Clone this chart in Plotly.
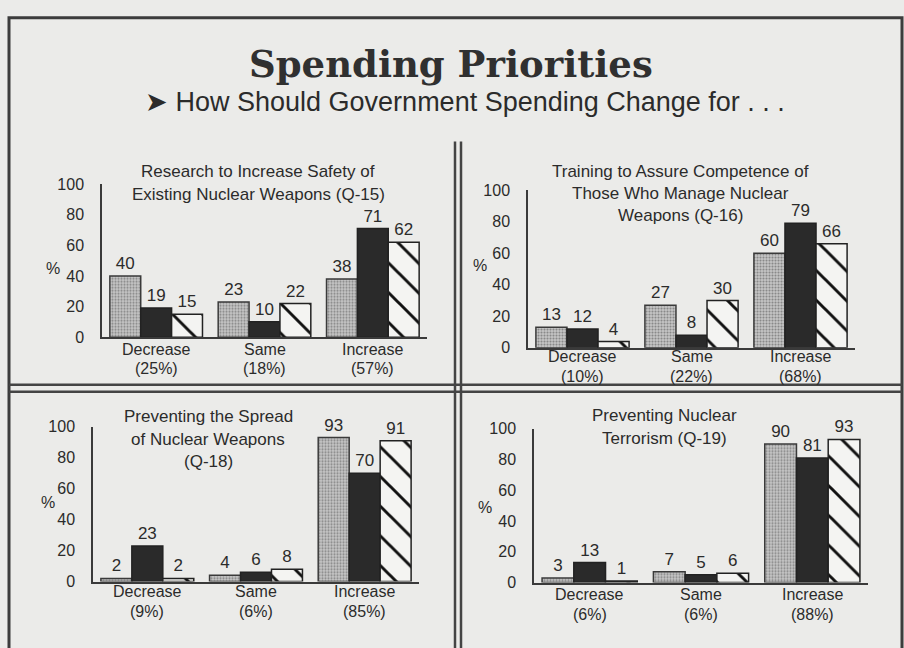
import plotly.graph_objects as go

W, H = 904, 648

categories = ["Decrease", "Same", "Increase"]

# Panel data: (series1 stippled, series2 solid, series3 hatched, category shares)
q15_s1 = [40, 23, 38]
q15_s2 = [19, 10, 71]
q15_s3 = [15, 22, 62]
q15_share = [25, 18, 57]

q16_s1 = [13, 27, 60]
q16_s2 = [12, 8, 79]
q16_s3 = [4, 30, 66]
q16_share = [10, 22, 68]

q18_s1 = [2, 4, 93]
q18_s2 = [23, 6, 70]
q18_s3 = [2, 8, 91]
q18_share = [9, 6, 85]

q19_s1 = [3, 7, 90]
q19_s2 = [13, 5, 81]
q19_s3 = [1, 6, 93]
q19_share = [6, 6, 88]

titles = [
    ["Research to Increase Safety of", "Existing Nuclear Weapons (Q-15)"],
    ["Training to Assure Competence of", "Those Who Manage Nuclear", "Weapons (Q-16)"],
    ["Preventing the Spread", "of Nuclear Weapons", "(Q-18)"],
    ["Preventing Nuclear", "Terrorism (Q-19)"],
]
y_ticks = [0, 20, 40, 60, 80, 100]

panels = [
    (q15_s1, q15_s2, q15_s3, q15_share),
    (q16_s1, q16_s2, q16_s3, q16_share),
    (q18_s1, q18_s2, q18_s3, q18_share),
    (q19_s1, q19_s2, q19_s3, q19_share),
]

# Layout geometry in pixels: x-axis left/right, y of value 0 and value 100
geom = [
    dict(x0=102, x1=427, y0=338, y100=181, title_x=258, title_y=[168, 192], pct=(53, 45), lab=(12, 31)),
    dict(x0=528, x1=855, y0=349, y100=187, title_x=680, title_y=[168, 191, 213], pct=(480, 52), lab=(9, 29)),
    dict(x0=93, x1=419, y0=589, y100=430, title_x=208, title_y=[420, 443, 466], pct=(48, 51), lab=(10, 30)),
    dict(x0=534, x1=868, y0=590, y100=432, title_x=664, title_y=[418, 442], pct=(485, 49), lab=(12, 32)),
]

INK = "#2b2b2b"
LINE = "#3a3a3a"
FONT = "Liberation Sans, Arial, sans-serif"

def px_x(x):
    return x / W

def px_y(y):
    return 1 - y / H

fig = go.Figure()
layout = dict(
    width=W, height=H,
    margin=dict(l=0, r=0, t=0, b=0),
    paper_bgcolor="#ebebe9",
    plot_bgcolor="rgba(0,0,0,0)",
    barmode="group",
    bargap=0.145,
    bargroupgap=0,
    showlegend=False,
    font=dict(family=FONT, color=INK, size=16),
)
annotations = []
shapes = []

for i, ((s1, s2, s3, share), g) in enumerate(zip(panels, geom)):
    n = "" if i == 0 else str(i + 1)
    xa, ya = "x" + n, "y" + n
    common = dict(
        x=categories, xaxis=xa, yaxis=ya,
        textposition="outside", cliponaxis=False, constraintext="none",
        texttemplate="%{y}", textfont=dict(size=17, color=INK),
        hoverinfo="skip",
    )
    fig.add_trace(go.Bar(
        y=s1, name="Series 1",
        marker=dict(color="#bcbcbc", line=dict(color=LINE, width=1.5),
                    pattern=dict(shape=".", size=3, solidity=0.38,
                                 fgcolor="#444444", bgcolor="#c6c6c6")),
        **common))
    fig.add_trace(go.Bar(
        y=s2, name="Series 2",
        marker=dict(color="#2a2a2a", line=dict(color="#222", width=1.5)),
        **common))
    fig.add_trace(go.Bar(
        y=s3, name="Series 3",
        marker=dict(color="#f4f4f2", line=dict(color="#222", width=1.5),
                    pattern=dict(shape="\\", size=21, solidity=0.14,
                                 fgcolor="#111111", fgopacity=1,
                                 bgcolor="#f4f4f2")),
        **common))

    layout["xaxis" + n] = dict(
        domain=[px_x(g["x0"]), px_x(g["x1"])], anchor=ya,
        range=[-0.5, 2.5], tickvals=categories, showticklabels=False,
        showline=True, linecolor=LINE, linewidth=1.5, ticks="",
        showgrid=False, zeroline=False,
    )
    layout["yaxis" + n] = dict(
        domain=[px_y(g["y0"]), px_y(g["y100"])], anchor=xa,
        range=[0, 100], tickvals=y_ticks,
        showline=True, linecolor=LINE, linewidth=1.5, ticks="",
        showgrid=False, zeroline=False, tickfont=dict(size=16, color=INK),
        ticklabelstandoff=13,
    )
    # category labels under each group
    for c, s in zip(categories, share):
        for txt, off in ((c, g["lab"][0]), (f"({s}%)", g["lab"][1])):
            annotations.append(dict(
                text=txt, x=c, y=0, xref=xa, yref=ya, yshift=-off,
                xanchor="center", yanchor="middle", showarrow=False,
                font=dict(size=16, color=INK, family=FONT)))
    for line, ty in zip(titles[i], g["title_y"]):
        annotations.append(dict(
            text=line, x=px_x(g["title_x"]), y=px_y(ty), xref="paper", yref="paper",
            xanchor="center", yanchor="middle", showarrow=False,
            font=dict(size=17, color=INK, family=FONT)))
    annotations.append(dict(
        text="%", x=px_x(g["pct"][0]), y=g["pct"][1], xref="paper", yref=ya,
        xanchor="center", yanchor="middle", showarrow=False,
        font=dict(size=16, color=INK, family=FONT)))

annotations.append(dict(
    text="<b>Spending Priorities</b>", x=px_x(451), y=px_y(57), xref="paper", yref="paper",
    xanchor="center", yanchor="middle", showarrow=False,
    font=dict(size=37, color="#303030", family="DejaVu Serif, Liberation Serif, serif")))
annotations.append(dict(
    text="➤ How Should Government Spending Change for . . .", x=px_x(465), y=px_y(97),
    xref="paper", yref="paper", xanchor="center", yanchor="middle", showarrow=False,
    font=dict(size=27, color=INK, family=FONT)))

# outer frame
shapes.append(dict(type="rect", xref="paper", yref="paper",
                   x0=px_x(9), x1=px_x(902), y0=-0.05, y1=px_y(10),
                   line=dict(color="#3c3c3c", width=3), fillcolor="rgba(0,0,0,0)"))
# double dividers
for xv in (455, 461):
    shapes.append(dict(type="line", xref="paper", yref="paper",
                       x0=px_x(xv), x1=px_x(xv), y0=px_y(137), y1=-0.05,
                       line=dict(color="#444", width=2.5)))
for yv in (387, 394):
    shapes.append(dict(type="line", xref="paper", yref="paper",
                       x0=px_x(9), x1=px_x(902), y0=px_y(yv), y1=px_y(yv),
                       line=dict(color="#444", width=2.5)))

layout["annotations"] = annotations
layout["shapes"] = shapes
fig.update_layout(**layout)
fig.write_html("out.html")
